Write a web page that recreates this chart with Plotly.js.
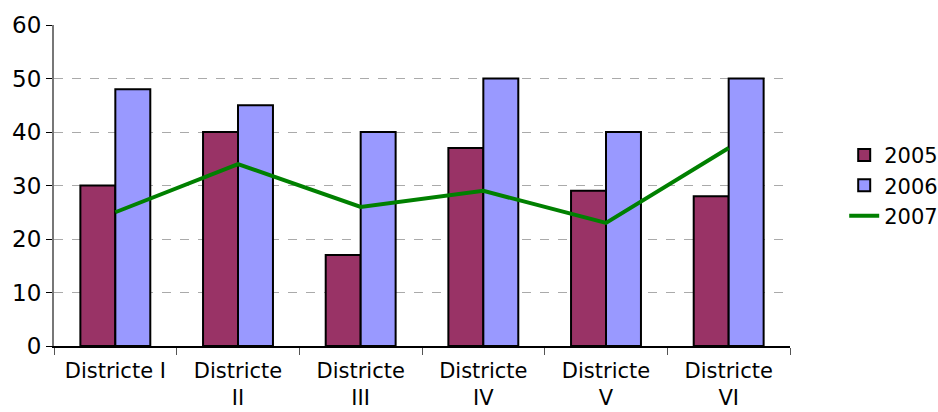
<!DOCTYPE html>
<html>
<head>
<meta charset="utf-8">
<script src="https://cdn.plot.ly/plotly-3.0.1.min.js"></script>
<style>html,body{margin:0;padding:0;background:#fff;}#chart{width:938px;height:412px;}</style>
</head>
<body>
<div id="chart"></div>
<script>
const categories = ["Districte I", "Districte<br>II", "Districte<br>III", "Districte<br>IV", "Districte<br>V", "Districte<br>VI"];
const values2005 = [30, 40, 17, 37, 29, 28];
const values2006 = [48, 45, 40, 50, 40, 50];
const values2007 = [25, 34, 26, 29, 23, 37];
const yTicks = [0, 10, 20, 30, 40, 50, 60];

const data = [
  {type: "bar", name: "2005", x: categories, y: values2005,
   marker: {color: "#993366", line: {color: "#000", width: 2}}},
  {type: "bar", name: "2006", x: categories, y: values2006,
   marker: {color: "#9999FF", line: {color: "#000", width: 2}}},
  {type: "scatter", mode: "lines", name: "2007", x: categories, y: values2007,
   line: {color: "#008000", width: 4}}
];

const layout = {
  width: 938, height: 412,
  margin: {l: 54, r: 148, t: 25, b: 66, autoexpand: false},
  paper_bgcolor: "#fff", plot_bgcolor: "#fff",
  font: {family: "DejaVu Sans, Verdana, sans-serif", size: 21, color: "#000"},
  barmode: "group", bargap: 0.43, bargroupgap: 0,
  showlegend: true,
  legend: {xref: "container", yref: "container", x: 0.9, y: 0.55, yanchor: "middle", xanchor: "left",
           font: {size: 21}, tracegroupgap: 4},
  xaxis: {
    type: "category", tickson: "boundaries", ticks: "outside", ticklen: 7, tickcolor: "#555",
    showline: true, linecolor: "#000", linewidth: 1.5, showgrid: false,
    tickfont: {size: 21}, ticklabelstandoff: 5
  },
  yaxis: {
    range: [0, 60], tickvals: yTicks, ticks: "outside", ticklen: 6, tickcolor: "#000",
    showline: true, linecolor: "#777", linewidth: 2,
    showgrid: true, gridcolor: "#aaa", griddash: "dash", gridwidth: 1,
    zeroline: false, tickfont: {size: 23}
  }
};

Plotly.newPlot("chart", data, layout, {displayModeBar: false, staticPlot: true});
</script>
</body>
</html>
